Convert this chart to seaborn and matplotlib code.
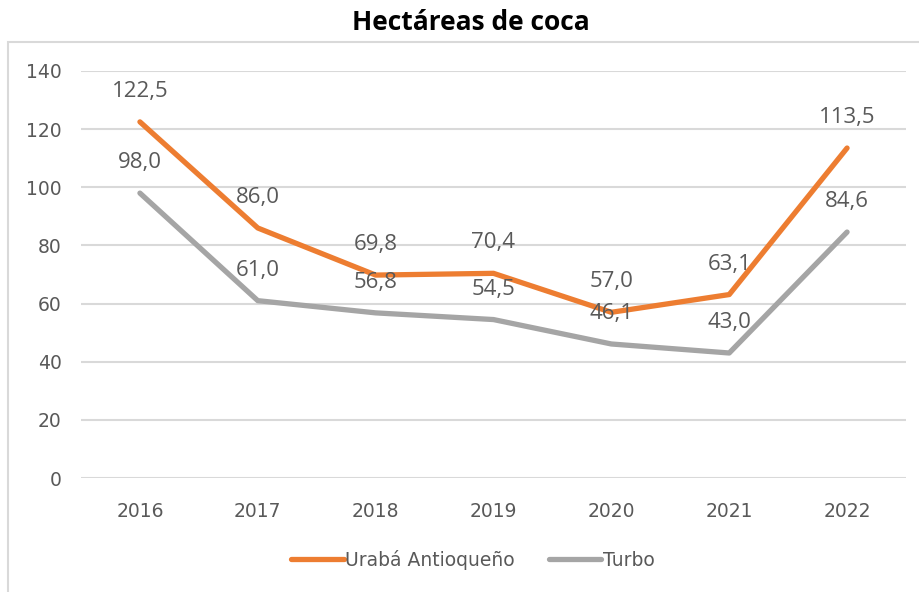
import pandas as pd
import numpy as np
import matplotlib
matplotlib.use("Agg")
import matplotlib.pyplot as plt
import seaborn as sns
from matplotlib.patches import Rectangle
from matplotlib.lines import Line2D

# datos
years = ["2016", "2017", "2018", "2019", "2020", "2021", "2022"]
uraba = [122.5, 86.0, 69.8, 70.4, 57.0, 63.1, 113.5]
turbo = [98.0, 61.0, 56.8, 54.5, 46.1, 43.0, 84.6]
series = ["Urabá Antioqueño", "Turbo"]
colors = ["#ED7D31", "#A5A5A5"]

df = pd.DataFrame({
    "year": years * 2,
    "value": uraba + turbo,
    "serie": [series[0]] * len(years) + [series[1]] * len(years),
})

sns.set_style("white")
plt.rcParams["font.family"] = ["Open Sans", "DejaVu Sans"]
txt = "#595959"

fig = plt.figure(figsize=(9.2, 5.92), dpi=100)
ax = fig.add_axes([81 / 920, 1 - 478 / 592, 825 / 920, 407 / 592])

sns.lineplot(data=df, x="year", y="value", hue="serie", palette=colors,
             linewidth=3.8, ax=ax, legend=False, sort=False)

ax.set_ylim(0, 140)
ax.set_xlim(-0.5, 6.5)
ax.set_yticks(np.arange(0, 141, 20))
ax.yaxis.grid(True, color="#D9D9D9", linewidth=1.5)
ax.xaxis.grid(False)
for s in ax.spines.values():
    s.set_visible(False)
ax.set_xlabel("")
ax.set_ylabel("")
ax.tick_params(axis="both", length=0, labelcolor=txt, labelsize=13.5)
ax.tick_params(axis="y", pad=14)
ax.tick_params(axis="x", pad=17)
for lab in ax.get_xticklabels() + ax.get_yticklabels():
    lab.set_family("DejaVu Sans")

# etiquetas de datos
for vals in (uraba, turbo):
    for i, v in enumerate(vals):
        ax.annotate(f"{v:.1f}".replace(".", ","), (i, v), xytext=(0, 22),
                    textcoords="offset points", ha="center", va="center",
                    fontsize=16, color=txt)

# marco del grafico
fig.patches.append(Rectangle((8 / 920, -0.05), 1.1, 1 - 42 / 592 + 0.05,
                             transform=fig.transFigure, fill=False,
                             edgecolor="#D9D9D9", linewidth=1.5))

fig.text(471 / 920, 1 - 22 / 592, "Hectáreas de coca", ha="center", va="center",
         fontsize=19, fontweight="bold", color="black")

handles = [Line2D([0], [0], color=c, linewidth=3.8) for c in colors]
fig.legend(handles, series, loc="center", bbox_to_anchor=(473 / 920, 1 - 560 / 592),
           ncol=2, frameon=False, handlelength=2.8, handletextpad=0.1,
           columnspacing=1.8, prop={"family": "DejaVu Sans", "size": 13.5},
           labelcolor=txt)

fig.savefig("out.png", dpi=100)
